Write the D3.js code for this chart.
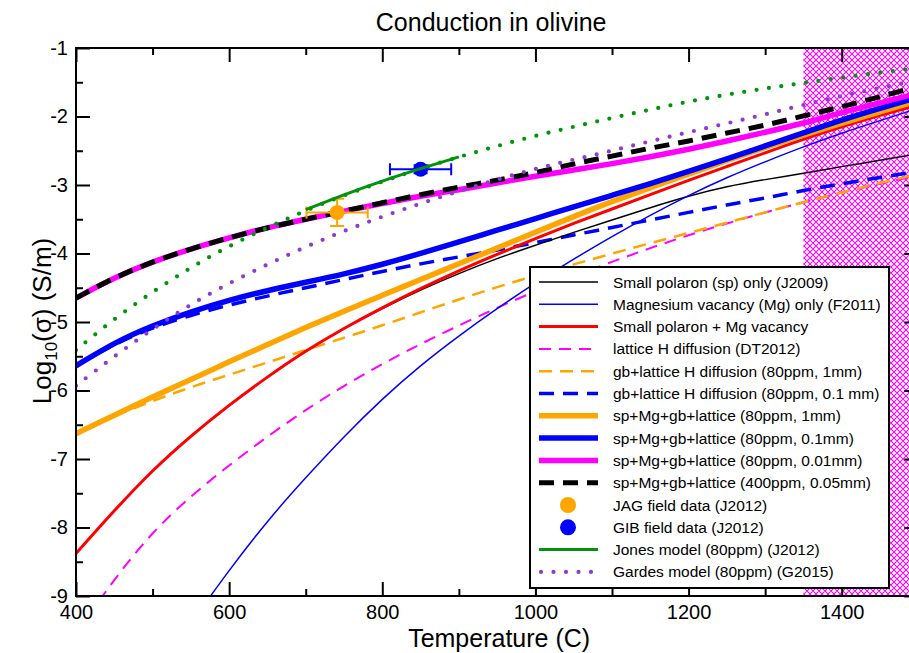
<!DOCTYPE html>
<html>
<head>
<meta charset="utf-8">
<script src="https://cdn.jsdelivr.net/npm/d3@7"></script>
<style>
  body { margin: 0; background: #fff; }
  svg { display: block; font-family: "Liberation Sans", Arial, Helvetica, sans-serif; }
</style>
</head>
<body>
<svg id="chart" width="909" height="653"></svg>
<script>
// Temperature grid (°C) shared by the model curves
const temps = [400, 450, 500, 550, 600, 650, 700, 750, 800, 850, 900, 950,
               1000, 1050, 1100, 1150, 1200, 1250, 1300, 1350, 1400, 1450, 1500];

// log10 conductivity (S/m) for each model
const spOnly      = [-8.38, -7.75, -7.16, -6.66, -6.21, -5.80, -5.42, -5.09, -4.80, -4.53, -4.29, -4.07,
                     -3.88, -3.69, -3.51, -3.33, -3.16, -3.02, -2.92, -2.83, -2.73, -2.64, -2.54];
const mgOnly      = [null, null, null, -9.40, -8.62, -7.90, -7.27, -6.67, -6.12, -5.63, -5.20, -4.80,
                     -4.43, -4.08, -3.75, -3.44, -3.15, -2.89, -2.66, -2.44, -2.24, -2.06, -1.88];
const spMg        = [-8.38, -7.75, -7.16, -6.66, -6.21, -5.80, -5.42, -5.09, -4.79, -4.51, -4.25, -4.01,
                     -3.78, -3.56, -3.35, -3.14, -2.93, -2.73, -2.53, -2.33, -2.15, -1.98, -1.83];
const latticeH    = [-9.55, -8.75, -8.06, -7.54, -7.09, -6.67, -6.28, -5.93, -5.61, -5.32, -5.05, -4.79,
                     -4.55, -4.33, -4.12, -3.92, -3.73, -3.56, -3.40, -3.25, -3.11, -2.98, -2.86];
const gbLat1mm    = [-6.63, -6.37, -6.15, -5.95, -5.77, -5.59, -5.41, -5.23, -5.05, -4.86, -4.67, -4.49,
                     -4.32, -4.16, -4.00, -3.85, -3.70, -3.55, -3.40, -3.25, -3.11, -2.97, -2.84];
const gbLat01mm   = [-5.64, -5.32, -5.08, -4.90, -4.75, -4.62, -4.50, -4.38, -4.26, -4.15, -4.05, -3.95,
                     -3.84, -3.73, -3.62, -3.51, -3.40, -3.29, -3.19, -3.08, -2.98, -2.89, -2.80];
const total1mm    = [-6.63, -6.36, -6.09, -5.84, -5.58, -5.33, -5.08, -4.84, -4.61, -4.38, -4.15, -3.92,
                     -3.69, -3.46, -3.24, -3.04, -2.84, -2.64, -2.45, -2.27, -2.10, -1.93, -1.77];
const total01mm   = [-5.64, -5.30, -5.05, -4.85, -4.68, -4.54, -4.42, -4.30, -4.16, -4.00, -3.83, -3.66,
                     -3.49, -3.32, -3.15, -2.98, -2.80, -2.62, -2.43, -2.24, -2.05, -1.88, -1.72];
const total001mm  = [-4.65, -4.35, -4.12, -3.93, -3.77, -3.62, -3.50, -3.38, -3.27, -3.16, -3.07, -2.97,
                     -2.87, -2.78, -2.69, -2.59, -2.48, -2.36, -2.23, -2.10, -1.94, -1.80, -1.66];
const total400ppm = [-4.65, -4.35, -4.12, -3.93, -3.77, -3.62, -3.50, -3.38, -3.26, -3.14, -3.03, -2.93,
                     -2.82, -2.69, -2.58, -2.46, -2.36, -2.24, -2.13, -1.99, -1.86, -1.71, -1.56];
const jonesExt    = [-5.41, -4.95, -4.56, -4.20, -3.89, -3.62, -3.37, -3.15, -2.95, -2.76, -2.59, -2.43,
                     -2.28, -2.15, -2.02, -1.90, -1.78, -1.68, -1.59, -1.51, -1.43, -1.36, -1.29];
const gardes      = [-5.93, -5.50, -5.10, -4.74, -4.43, -4.16, -3.90, -3.67, -3.46, -3.27, -3.09, -2.92,
                     -2.76, -2.63, -2.50, -2.36, -2.23, -2.10, -1.97, -1.83, -1.70, -1.58, -1.47];

// Jones model over its calibrated range
const jonesTemps  = [700, 750, 800, 850, 900];
const jonesVals   = [-3.36, -3.14, -2.94, -2.76, -2.59];

// Field data: [T, log sigma, T error, log sigma error]
const jagData = [741, -3.40, 40, 0.20];
const gibData = [850, -2.77, 40, 0.06];

// Shaded melting range
const meltRange = [1350, 1500];

// Axis ticks
const xMajor = [400, 600, 800, 1000, 1200, 1400];
const xMinor = [500, 700, 900, 1100, 1300, 1500];
const yMajor = [-1, -2, -3, -4, -5, -6, -7, -8, -9];
const yMinor = [-1.5, -2.5, -3.5, -4.5, -5.5, -6.5, -7.5, -8.5];
const yTickLabels = ["-1", "-2", "-3", "-4", "-5", "-6", "-7", "-8", "-9"];

const legendLabels = [
  "Small polaron (sp) only (J2009)",
  "Magnesium vacancy (Mg) only (F2011)",
  "Small polaron + Mg vacancy",
  "lattice H diffusion (DT2012)",
  "gb+lattice H diffusion (80ppm, 1mm)",
  "gb+lattice H diffusion (80ppm, 0.1 mm)",
  "sp+Mg+gb+lattice (80ppm, 1mm)",
  "sp+Mg+gb+lattice (80ppm, 0.1mm)",
  "sp+Mg+gb+lattice (80ppm, 0.01mm)",
  "sp+Mg+gb+lattice (400ppm, 0.05mm)",
  "JAG field data (J2012)",
  "GIB field data (J2012)",
  "Jones model (80ppm) (J2012)",
  "Gardes model (80ppm) (G2015)"
];

// ---- styles ----
const ORANGE = "#ffa500", BLUE = "#0000ff", RED = "#ff0000", MAGENTA = "#ff00ff",
      GREEN = "#00940a", PURPLE = "#8e3ccf", BLACK = "#000000";

const styles = [
  { color: BLACK,   width: 1.5 },
  { color: BLUE,    width: 1.5 },
  { color: RED,     width: 3 },
  { color: MAGENTA, width: 2,   dash: "12,8" },
  { color: ORANGE,  width: 2.5, dash: "13,8" },
  { color: BLUE,    width: 3.5, dash: "15,9" },
  { color: ORANGE,  width: 5.5 },
  { color: BLUE,    width: 5.5 },
  { color: MAGENTA, width: 5.5 },
  { color: BLACK,   width: 5,   dash: "15,9" },
  { color: ORANGE,  marker: true },
  { color: BLUE,    marker: true },
  { color: GREEN,   width: 3 },
  { color: PURPLE,  width: 4.2, dash: "0,12.5", cap: "round" }
];

const svg = d3.select("#chart");
const x = d3.scaleLinear().domain([400, 1500]).range([76, 918.3]);
const y = d3.scaleLinear().domain([-9, -1]).range([596, 48]);
const pl = x.range()[0], pr = x.range()[1], pt = y.range()[1], pb = y.range()[0];

const defs = svg.append("defs");
defs.append("clipPath").attr("id", "plotClip")
  .append("rect").attr("x", pl).attr("y", pt).attr("width", pr - pl).attr("height", pb - pt);

const P = 6;
const pat = defs.append("pattern").attr("id", "hatch")
  .attr("patternUnits", "userSpaceOnUse").attr("width", P).attr("height", P);
pat.append("rect").attr("width", P).attr("height", P).attr("fill", "#fff");
pat.append("path")
  .attr("d", `M0,0 L${P},${P} M${-P/2},${P/2} L${P/2},${1.5*P} M${P/2},${-P/2} L${1.5*P},${P/2}` +
             ` M${P},0 L0,${P} M${-P/2},${P/2} L${P/2},${-P/2} M${P/2},${1.5*P} L${1.5*P},${P/2}`)
  .attr("stroke", MAGENTA).attr("stroke-width", 1.1);

// Title
svg.append("text").attr("x", (pl + pr) / 2 - 6).attr("y", 31)
  .attr("text-anchor", "middle").attr("font-size", 25).text("Conduction in olivine");

const plot = svg.append("g").attr("clip-path", "url(#plotClip)");

// Melt region
plot.append("rect")
  .attr("x", x(meltRange[0])).attr("y", pt)
  .attr("width", x(meltRange[1]) - x(meltRange[0])).attr("height", pb - pt)
  .attr("fill", "url(#hatch)");

const line = d3.line()
  .defined(d => d[1] !== null)
  .x(d => x(d[0])).y(d => y(d[1]))
  .curve(d3.curveBasis);

function drawSeries(vals, st, tArr) {
  const pts = (tArr || temps).map((t, i) => [t, vals[i]]);
  const p = plot.append("path").datum(pts)
    .attr("d", line).attr("fill", "none")
    .attr("stroke", st.color).attr("stroke-width", st.width)
    .attr("stroke-linecap", st.cap || "butt").attr("stroke-linejoin", "round");
  if (st.dash) p.attr("stroke-dasharray", st.dash);
  return p;
}

drawSeries(gbLat01mm, styles[5]);
drawSeries(latticeH, styles[3]);
drawSeries(gbLat1mm, styles[4]);
drawSeries(spOnly, styles[0]);
drawSeries(mgOnly, styles[1]);
drawSeries(spMg, styles[2]);
drawSeries(total1mm, styles[6]);
drawSeries(total01mm, styles[7]);
drawSeries(total001mm, styles[8]);
drawSeries(total400ppm, styles[9]);
drawSeries(jonesExt, { color: GREEN, width: 4.2, dash: "0,12.5", cap: "round" });
drawSeries(gardes, styles[13]);

// Field data with error bars
function drawPoint(d, color) {
  const g = plot.append("g").attr("stroke", color).attr("stroke-width", 2).attr("fill", "none");
  const cx = x(d[0]), cy = y(d[1]);
  const x0 = x(d[0] - d[2]), x1 = x(d[0] + d[2]);
  const y0 = y(d[1] - d[3]), y1 = y(d[1] + d[3]);
  g.append("line").attr("x1", x0).attr("x2", x1).attr("y1", cy).attr("y2", cy);
  g.append("line").attr("x1", x0).attr("x2", x0).attr("y1", cy - 6).attr("y2", cy + 6);
  g.append("line").attr("x1", x1).attr("x2", x1).attr("y1", cy - 6).attr("y2", cy + 6);
  g.append("line").attr("x1", cx).attr("x2", cx).attr("y1", y0).attr("y2", y1);
  g.append("line").attr("x1", cx - 7).attr("x2", cx + 7).attr("y1", y0).attr("y2", y0);
  g.append("line").attr("x1", cx - 7).attr("x2", cx + 7).attr("y1", y1).attr("y2", y1);
  plot.append("circle").attr("cx", cx).attr("cy", cy).attr("r", 7.5).attr("fill", color);
}
drawPoint(jagData, ORANGE);
drawPoint(gibData, BLUE);

drawSeries(jonesVals, styles[12], jonesTemps);

// Axes (ticks pointing inward on all four sides)
function styleAxis(g) {
  g.select(".domain").remove();
  g.selectAll(".tick line").attr("stroke", "#000").attr("stroke-width", 2);
  g.selectAll("text").attr("font-size", 20).attr("fill", "#000")
    .attr("font-family", '"Liberation Sans", Arial, sans-serif');
}
svg.append("g").attr("transform", `translate(0,${pb})`)
  .call(d3.axisBottom(x).tickValues(xMajor).tickSize(-14).tickPadding(8.5).tickFormat(d3.format("d")))
  .call(styleAxis);
svg.append("g").attr("transform", `translate(0,${pb})`)
  .call(d3.axisBottom(x).tickValues(xMinor).tickSize(-7).tickFormat(""))
  .call(styleAxis);
svg.append("g").attr("transform", `translate(0,${pt})`)
  .call(d3.axisTop(x).tickValues(xMajor).tickSize(-14).tickFormat(""))
  .call(styleAxis);
svg.append("g").attr("transform", `translate(0,${pt})`)
  .call(d3.axisTop(x).tickValues(xMinor).tickSize(-7).tickFormat(""))
  .call(styleAxis);
svg.append("g").attr("transform", `translate(${pl},0)`)
  .call(d3.axisLeft(y).tickValues(yMajor).tickSize(-14).tickPadding(8)
    .tickFormat((d, i) => yTickLabels[i]))
  .call(styleAxis);
svg.append("g").attr("transform", `translate(${pl},0)`)
  .call(d3.axisLeft(y).tickValues(yMinor).tickSize(-7).tickFormat(""))
  .call(styleAxis);
svg.append("g").attr("transform", `translate(${pr},0)`)
  .call(d3.axisRight(y).tickValues(yMajor).tickSize(-14).tickFormat(""))
  .call(styleAxis);
svg.append("g").attr("transform", `translate(${pr},0)`)
  .call(d3.axisRight(y).tickValues(yMinor).tickSize(-7).tickFormat(""))
  .call(styleAxis);

// Frame
svg.append("rect").attr("x", pl).attr("y", pt).attr("width", pr - pl).attr("height", pb - pt)
  .attr("fill", "none").attr("stroke", "#000").attr("stroke-width", 2);

// Axis titles
svg.append("text").attr("x", (pl + pr) / 2 + 2).attr("y", 646.5)
  .attr("text-anchor", "middle").attr("font-size", 25).text("Temperature (C)");
const yl = svg.append("text").attr("transform", "translate(51,321) rotate(-90)")
  .attr("text-anchor", "middle").attr("font-size", 26);
yl.append("tspan").text("Log");
yl.append("tspan").attr("font-size", 17).attr("dy", 6).text("10");
yl.append("tspan").attr("dy", -6).text("(σ) (S/m)");

// Legend
const lg = svg.append("g");
lg.append("rect").attr("x", 530).attr("y", 267).attr("width", 359).attr("height", 321)
  .attr("fill", "#fff").attr("stroke", "#000").attr("stroke-width", 2);
legendLabels.forEach((lab, i) => {
  const yy = 282 + i * 22.3;
  const st = styles[i];
  if (st.marker) {
    lg.append("circle").attr("cx", 568).attr("cy", yy).attr("r", 8).attr("fill", st.color);
  } else {
    const l = lg.append("line").attr("x1", 539).attr("x2", 598).attr("y1", yy).attr("y2", yy)
      .attr("stroke", st.color).attr("stroke-width", st.width)
      .attr("stroke-linecap", st.cap || "butt");
    if (st.dash) l.attr("stroke-dasharray", st.dash);
    if (st.cap === "round") l.attr("x1", 541).attr("x2", 596);
  }
  lg.append("text").attr("x", 613).attr("y", yy + 5.5).attr("font-size", 15.5).text(lab);
});
</script>
</body>
</html>
